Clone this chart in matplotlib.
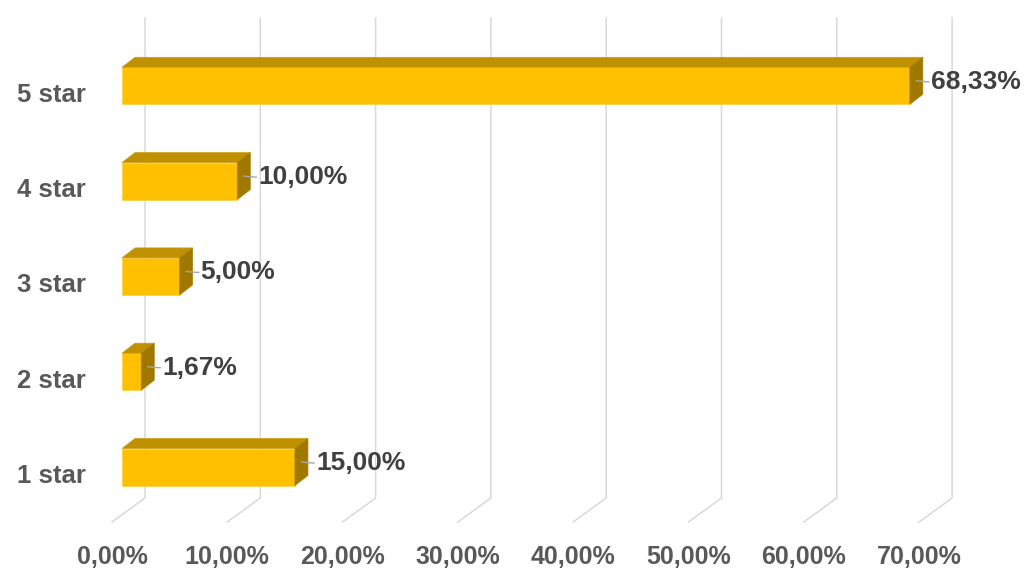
import numpy as np
import matplotlib.pyplot as plt
from matplotlib.patches import Polygon

categories = ['1 star', '2 star', '3 star', '4 star', '5 star']
shares = [15.00, 1.67, 5.00, 10.00, 68.33]
ticks = [0, 10, 20, 30, 40, 50, 60, 70]

plt.rcParams['font.family'] = ['Liberation Sans', 'DejaVu Sans']

# pixel scale of the reference (px per percent, px per category)
PX = 11.53
U = 95.3
x0_px = 122
y0_px = 467


def fmt(v):
    return f'{v:.2f}%'.replace('.', ',')


fig = plt.figure(figsize=(10.24, 5.88), dpi=100)
ax = fig.add_axes([0, 0, 1, 1])
ax.set_xlim(-x0_px / PX, (1024 - x0_px) / PX)
ax.set_ylim((y0_px - 588) / U, y0_px / U)
ax.axis('off')

# perspective offsets
back_dx = 23 / PX
floor_dx = -10 / PX
grid_top = (y0_px - 18) / U
grid_bot = (y0_px - 498) / U
floor_y = (y0_px - 522) / U
tick_y = (y0_px - 557) / U

for t in ticks:
    ax.plot([t + back_dx, t + back_dx, t + floor_dx],
            [grid_top, grid_bot, floor_y],
            color='#d9d9d9', lw=1.1, zorder=1)
    ax.text(t + floor_dx, tick_y, fmt(t), ha='center', va='center',
            fontsize=18, fontweight='bold', color='#595959')

h = 37 / U
dx = 13 / PX
dy = 10 / U
pos = np.arange(len(categories))

ax.barh(pos, shares, height=h, color='#ffc000', edgecolor='#ffd24d',
        lw=0.6, zorder=3)

for y, v, name in zip(pos, shares, categories):
    top = y + h / 2
    bot = y - h / 2
    ax.add_patch(Polygon([(0, top), (v, top), (v + dx, top + dy), (dx, top + dy)],
                         closed=True, facecolor='#bf9000', edgecolor='#c99a10',
                         lw=0.5, zorder=3))
    ax.add_patch(Polygon([(v, bot), (v, top), (v + dx, top + dy), (v + dx, bot + dy)],
                         closed=True, facecolor='#a07800', edgecolor='#a88010',
                         lw=0.5, zorder=3))
    # leader line and data label
    lx = v + 21 / PX
    ly = y + 4 / U
    ax.plot([v + dx / 2, v + dx + 4 / PX, lx - 2 / PX],
            [y + dy / 2, ly, ly], color='#a6a6a6', lw=1, zorder=4)
    ax.text(lx, ly, fmt(v), ha='left', va='center', fontsize=19,
            fontweight='bold', color='#404040', zorder=5)
    ax.text(-36 / PX, y - 9 / U, name, ha='right', va='center', fontsize=18.5,
            fontweight='bold', color='#595959')

fig.savefig('out.png', dpi=100)
